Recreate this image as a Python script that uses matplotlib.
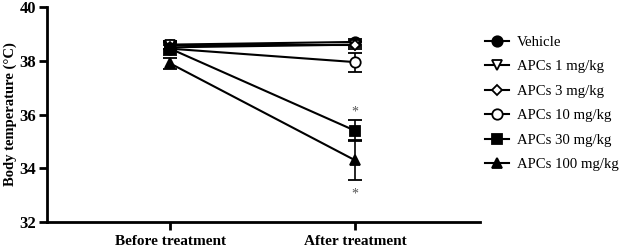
import numpy as np
import matplotlib
matplotlib.use("Agg")
import matplotlib.pyplot as plt
from matplotlib.lines import Line2D

plt.rcParams["font.family"] = ["Liberation Serif", "DejaVu Serif"]

# ---------------------------------------------------------------- data
timepoints = ["Before treatment", "After treatment"]
groups = ["Vehicle", "APCs 1 mg/kg", "APCs 3 mg/kg", "APCs 10 mg/kg",
          "APCs 30 mg/kg", "APCs 100 mg/kg"]
means = {
    "Vehicle":        [38.60, 38.70],
    "APCs 1 mg/kg":   [38.60, 38.60],
    "APCs 3 mg/kg":   [38.50, 38.60],
    "APCs 10 mg/kg":  [38.45, 37.95],
    "APCs 30 mg/kg":  [38.45, 35.40],
    "APCs 100 mg/kg": [37.90, 34.30],
}
sems = {
    "Vehicle":        [0.15, 0.10],
    "APCs 1 mg/kg":   [0.15, 0.10],
    "APCs 3 mg/kg":   [0.15, 0.15],
    "APCs 10 mg/kg":  [0.15, 0.35],
    "APCs 30 mg/kg":  [0.25, 0.38],
    "APCs 100 mg/kg": [0.20, 0.75],
}
# significance marks: (group, timepoint index, above?)
stars = [("APCs 30 mg/kg", 1, True), ("APCs 100 mg/kg", 1, False)]

styles = {
    "Vehicle":        dict(marker="o", mfc="black"),
    "APCs 1 mg/kg":   dict(marker="v", mfc="white"),
    "APCs 3 mg/kg":   dict(marker="D", mfc="white", ms=5.5),
    "APCs 10 mg/kg":  dict(marker="o", mfc="white"),
    "APCs 30 mg/kg":  dict(marker="s", mfc="black"),
    "APCs 100 mg/kg": dict(marker="^", mfc="black"),
}

# ---------------------------------------------------------------- plot
fig = plt.figure(figsize=(6.21, 2.49), dpi=100)
ax = fig.add_axes([0.076, 0.108, 0.697, 0.864])

x = np.arange(len(timepoints))
handles = []
for g in groups:
    st = dict(ms=7.5, mec="black", mew=1.3, color="black")
    st.update(styles[g])
    ax.errorbar(x, means[g], yerr=sems[g], lw=1.5, capsize=5, capthick=1.2,
                elinewidth=1.2, **st)
    handles.append(Line2D([], [], lw=1.5, **st))

for g, i, above in stars:
    m, e = means[g][i], sems[g][i]
    y = m + e + 0.3 if above else m - e - 0.5
    ax.text(x[i], y, "*", ha="center", va="center", fontsize=10, color="#555555")

ax.set_xlim(-0.665, 1.676)
ax.set_ylim(32, 40)
ax.set_yticks([32, 34, 36, 38, 40])
ax.set_xticks(x)
ax.set_xticklabels(timepoints, fontweight="bold", fontsize=11)
for lab in ax.get_yticklabels():
    lab.set_fontweight("bold")
    lab.set_fontsize(12)
ax.set_ylabel("Body temperature (\u00b0C)", fontweight="bold", fontsize=10.5,
              labelpad=2)

for side in ["top", "right"]:
    ax.spines[side].set_visible(False)
for side in ["left", "bottom"]:
    ax.spines[side].set_linewidth(2)
ax.tick_params(width=2, length=6)
ax.tick_params(axis="y", pad=2)

fig.legend(handles, groups, loc="upper left", bbox_to_anchor=(0.781, 0.857),
           frameon=False, fontsize=10.6, handlelength=1.6, labelspacing=0.76,
           handletextpad=0.58, borderpad=0, borderaxespad=0)

fig.savefig("out.png", dpi=100)
